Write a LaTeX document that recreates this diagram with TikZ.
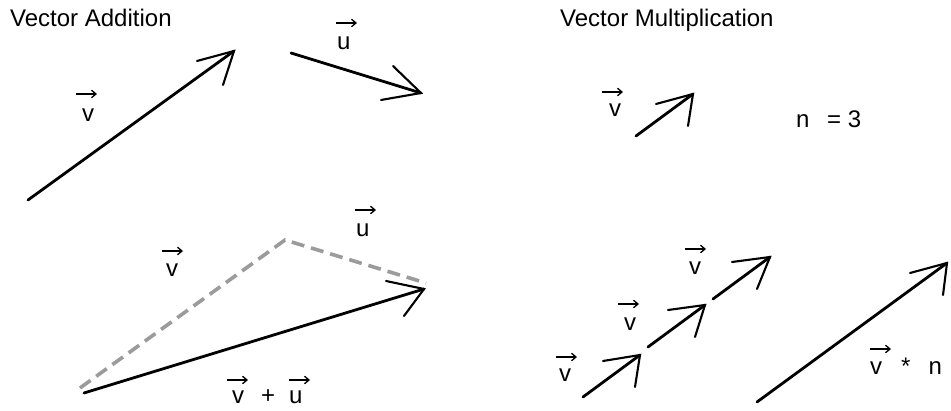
\documentclass[tikz,border=0pt]{standalone}
\usepackage{fontspec}
\setmainfont{Liberation Sans}
\usetikzlibrary{arrows.meta}
\definecolor{dashgray}{RGB}{155,155,155}
\tikzset{
  lab/.style={inner sep=0pt, anchor=base west, font=\fontsize{24}{28}\selectfont},
  shaft/.style={line width=2.8pt, line cap=round},
  barb/.style={line width=2.1pt, line cap=round, line join=miter},
  vecarr/.style={line width=1.3pt, -{Straight Barb[length=4.5pt,width=7.5pt]}},
  dashline/.style={dashgray, line width=3.6pt, dash pattern=on 13pt off 7pt, line join=miter}
}
\newcommand\overarr[3]{\draw[vecarr] ([shift={(#2,#3)}]#1.base west) -- ++(21,0);}
\newcommand\sketcharrow[4]{%
  \draw[shaft] (#1) -- (#2);
  \draw[barb] (#3) -- (#2) -- (#4);}
\begin{document}
\begin{tikzpicture}[x=1pt,y=1pt]
\useasboundingbox[fill=white] (0,0) rectangle (951,410);

% titles
\node[lab] (tA) at (10,383) {Vector Addition};
\node[lab] (tM) at (560,383) {Vector Multiplication};

% ---- Vector addition, top
\coordinate (vAt) at (28,210);  \coordinate (vAh) at (234,359);
\coordinate (vAb1) at (197,349); \coordinate (vAb2) at (223,325);
\sketcharrow{vAt}{vAh}{vAb1}{vAb2}
\coordinate (uAt) at (291,357); \coordinate (uAh) at (421,317);
\coordinate (uAb1) at (393,344); \coordinate (uAb2) at (381,310);
\sketcharrow{uAt}{uAh}{uAb1}{uAb2}
\node[lab] (lvA) at (82,288) {v};   \overarr{lvA}{-6}{28}
\node[lab] (luA) at (337,360) {u};  \overarr{luA}{-1}{27}

% ---- Vector addition, bottom
\coordinate (dS) at (80,22); \coordinate (dM) at (285,170); \coordinate (dE) at (426,127);
\draw[dashline] (dS) -- (dM) -- (dE);
\coordinate (sT) at (84,17);  \coordinate (sH) at (424,121);
\coordinate (sB1) at (386,129); \coordinate (sB2) at (404,94);
\sketcharrow{sT}{sH}{sB1}{sB2}
\node[lab] (lvB) at (166,133) {v};  \overarr{lvB}{-4}{26}
\node[lab] (luB) at (356,173) {u};  \overarr{luB}{-1}{27}
\node[lab] (lsum) at (232,7) {v\hspace{17pt}+\hspace{14pt}u};
\overarr{lsum}{-5}{23}
\overarr{lsum}{57}{23}

% ---- Vector multiplication, top
\coordinate (mT) at (636,274); \coordinate (mH) at (693,316);
\coordinate (mB1) at (656,306); \coordinate (mB2) at (688,284);
\sketcharrow{mT}{mH}{mB1}{mB2}
\node[lab] (lvM) at (609,293) {v};  \overarr{lvM}{-7}{25}
\node[lab] (lnM) at (796,282) {n\hspace{17.7pt}= 3};

% ---- Vector multiplication, bottom
\coordinate (aT1) at (583,13);  \coordinate (aH1) at (640,55);
\coordinate (aB11) at (603,49); \coordinate (aB12) at (635,23);
\sketcharrow{aT1}{aH1}{aB11}{aB12}
\coordinate (aT2) at (648,63);  \coordinate (aH2) at (705,105);
\coordinate (aB21) at (668,100); \coordinate (aB22) at (695,73);
\sketcharrow{aT2}{aH2}{aB21}{aB22}
\coordinate (aT3) at (713,111); \coordinate (aH3) at (770,153);
\coordinate (aB31) at (732,148); \coordinate (aB32) at (757,121);
\sketcharrow{aT3}{aH3}{aB31}{aB32}
\coordinate (bT) at (757,8);  \coordinate (bH) at (947,147);
\coordinate (bB1) at (910,137); \coordinate (bB2) at (943,115);
\sketcharrow{bT}{bH}{bB1}{bB2}

\node[lab] (lv1) at (559,28) {v};   \overarr{lv1}{-3}{25}
\node[lab] (lv2) at (624,79) {v};   \overarr{lv2}{-6}{27}
\node[lab] (lv3) at (689,135) {v};  \overarr{lv3}{-4}{26}
\node[lab] (lprod) at (870,35) {v\hspace{19pt}*\hspace{18pt}n};
\overarr{lprod}{0}{26}
\end{tikzpicture}
\end{document}
